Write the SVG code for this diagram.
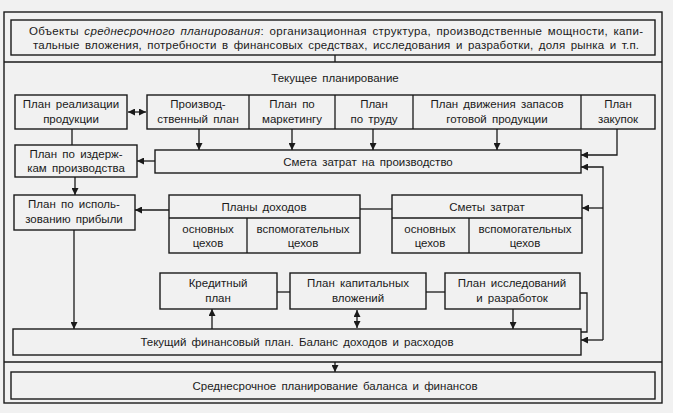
<svg xmlns="http://www.w3.org/2000/svg" width="673" height="413" viewBox="0 0 673 413">
<style>
.b{fill:none;stroke:#1a1a1a;stroke-width:1.4}
.l{fill:none;stroke:#1a1a1a;stroke-width:1.3}
.a{fill:none;stroke:#1a1a1a;stroke-width:1.3;marker-end:url(#ah)}
.d{fill:none;stroke:#1a1a1a;stroke-width:1.3;marker-end:url(#ah);marker-start:url(#as)}
text{font-family:"Liberation Sans",Arial,sans-serif;font-size:11.5px;fill:#1a1a1a;text-anchor:middle;word-spacing:2px}
</style>
<defs>
<marker id="ah" viewBox="0 0 10 10" refX="10" refY="5" markerWidth="7" markerHeight="7" markerUnits="userSpaceOnUse" orient="auto"><path d="M0,0 L10,5 L0,10 z" fill="#1a1a1a"/></marker>
<marker id="as" viewBox="0 0 10 10" refX="0" refY="5" markerWidth="7" markerHeight="7" markerUnits="userSpaceOnUse" orient="auto"><path d="M10,0 L0,5 L10,10 z" fill="#1a1a1a"/></marker>
</defs>
<rect x="0" y="0" width="673" height="413" fill="#f1f1f1"/>
<g id="frame">
<rect class="b" x="4" y="12" width="658" height="391"/>
<line class="l" x1="4" y1="62" x2="662" y2="62"/>
<line class="l" x1="4" y1="362" x2="662" y2="362"/>
</g>
<g id="objects">
<rect class="b" x="11" y="20" width="644" height="35"/>
<text x="336" y="35" textLength="614" lengthAdjust="spacing">Объекты <tspan font-style="italic">среднесрочного планирования</tspan>: организационная структура, производственные мощности, капи-</text>
<text x="336" y="49" textLength="606" lengthAdjust="spacing">тальные вложения, потребности в финансовых средствах, исследования и разработки, доля рынка и т.п.</text>
</g>
<text id="current-label" x="335" y="82">Текущее планирование</text>
<g id="sales-plan">
<rect class="b" x="15" y="95" width="112" height="34"/>
<text x="71" y="108">План реализации</text>
<text x="71" y="123">продукции</text>
</g>
<g id="plans-row">
<rect class="b" x="147" y="95" width="508" height="34"/>
<line class="l" x1="249" y1="95" x2="249" y2="129"/>
<line class="l" x1="335" y1="95" x2="335" y2="129"/>
<line class="l" x1="413" y1="95" x2="413" y2="129"/>
<line class="l" x1="581" y1="95" x2="581" y2="129"/>
<text x="198" y="108">Производ-</text>
<text x="198" y="123">ственный план</text>
<text x="292" y="108">План по</text>
<text x="292" y="123">маркетингу</text>
<text x="374" y="108">План</text>
<text x="374" y="123">по труду</text>
<text x="497" y="108">План движения запасов</text>
<text x="497" y="123">готовой продукции</text>
<text x="618" y="108">План</text>
<text x="618" y="123">закупок</text>
</g>
<g id="cost-estimate">
<rect class="b" x="155" y="150" width="426" height="23"/>
<text x="368" y="166">Смета затрат на производство</text>
</g>
<g id="cost-plan">
<rect class="b" x="15" y="145" width="122" height="32"/>
<text x="76" y="158">План по издерж-</text>
<text x="76" y="172">кам производства</text>
</g>
<g id="profit-plan">
<rect class="b" x="14" y="195" width="121" height="35"/>
<text x="74" y="208">План по исполь-</text>
<text x="74" y="223">зованию прибыли</text>
</g>
<g id="income-plans">
<rect class="b" x="169" y="195" width="191" height="58"/>
<line class="l" x1="169" y1="218" x2="360" y2="218"/>
<line class="l" x1="247" y1="218" x2="247" y2="253"/>
<text x="264" y="211">Планы доходов</text>
<text x="208" y="233">основных</text>
<text x="208" y="247">цехов</text>
<text x="303" y="233">вспомогательных</text>
<text x="303" y="247">цехов</text>
</g>
<g id="cost-estimates">
<rect class="b" x="392" y="195" width="190" height="58"/>
<line class="l" x1="392" y1="218" x2="582" y2="218"/>
<line class="l" x1="469" y1="218" x2="469" y2="253"/>
<text x="487" y="211">Сметы затрат</text>
<text x="430" y="233">основных</text>
<text x="430" y="247">цехов</text>
<text x="525" y="233">вспомогательных</text>
<text x="525" y="247">цехов</text>
</g>
<g id="credit-plan">
<rect class="b" x="160" y="273" width="117" height="36"/>
<text x="218" y="287">Кредитный</text>
<text x="218" y="302">план</text>
</g>
<g id="capital-plan">
<rect class="b" x="290" y="273" width="136" height="36"/>
<text x="358" y="287">План капитальных</text>
<text x="358" y="302">вложений</text>
</g>
<g id="rnd-plan">
<rect class="b" x="445" y="273" width="135" height="36"/>
<text x="512" y="287">План исследований</text>
<text x="512" y="302">и разработок</text>
</g>
<g id="financial-plan">
<rect class="b" x="13" y="329" width="568" height="26"/>
<text x="297" y="346">Текущий финансовый план. Баланс доходов и расходов</text>
</g>
<g id="midterm-balance">
<rect class="b" x="11" y="372" width="644" height="27"/>
<text x="335" y="390">Среднесрочное планирование баланса и финансов</text>
</g>
<g id="connectors">
<line class="l" x1="335" y1="55" x2="335" y2="62"/>
<line class="d" x1="128" y1="112" x2="146" y2="112"/>
<line class="l" x1="72" y1="129" x2="72" y2="145"/>
<line class="a" x1="199" y1="129" x2="199" y2="150"/>
<line class="a" x1="292" y1="129" x2="292" y2="150"/>
<line class="a" x1="373" y1="129" x2="373" y2="150"/>
<line class="a" x1="497" y1="129" x2="497" y2="150"/>
<polyline class="a" points="617,129 617,155 581,155"/>
<polyline class="a" points="603,340 603,167 581,167"/>
<line class="a" x1="603" y1="208" x2="582" y2="208"/>
<line class="a" x1="603" y1="340" x2="581" y2="340"/>
<line class="a" x1="155" y1="161" x2="137" y2="161"/>
<line class="a" x1="75" y1="177" x2="75" y2="195"/>
<line class="a" x1="169" y1="210" x2="135" y2="210"/>
<line class="a" x1="74" y1="230" x2="74" y2="329"/>
<line class="l" x1="360" y1="209" x2="392" y2="209"/>
<line class="l" x1="277" y1="292" x2="290" y2="292"/>
<line class="l" x1="426" y1="292" x2="445" y2="292"/>
<polyline class="l" points="580,293 587,293 587,332 581,332"/>
<line class="a" x1="212" y1="329" x2="212" y2="309"/>
<line class="d" x1="357" y1="310" x2="357" y2="328"/>
<line class="a" x1="513" y1="309" x2="513" y2="329"/>
<line class="a" x1="335" y1="362" x2="335" y2="372"/>
</g>
</svg>
